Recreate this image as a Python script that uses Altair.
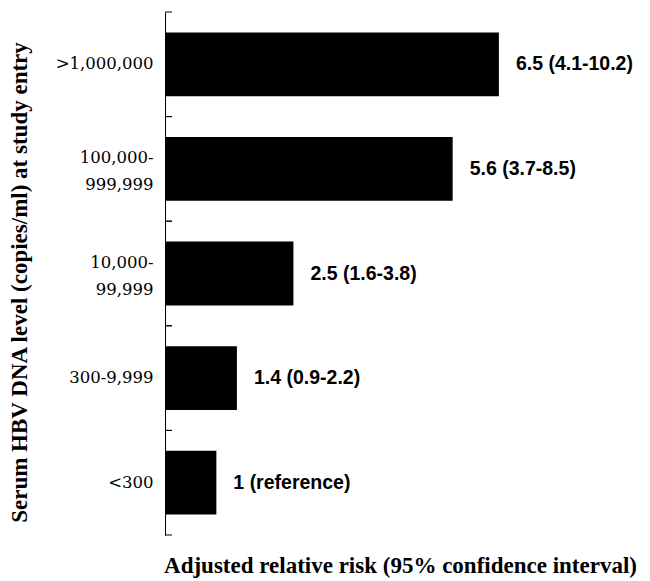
import altair as alt
import pandas as pd

categories = [">1,000,000", "100,000-\n999,999", "10,000-\n99,999", "300-9,999", "<300"]
risk = [6.5, 5.6, 2.5, 1.4, 1.0]
labels = ["6.5 (4.1-10.2)", "5.6 (3.7-8.5)", "2.5 (1.6-3.8)", "1.4 (0.9-2.2)", "1 (reference)"]

df = pd.DataFrame({"cat": categories, "risk": risk, "label": labels})

yscale = alt.Scale(domain=categories, paddingInner=0, paddingOuter=0)

base = alt.Chart(df)

bars = base.mark_bar(color="black", height={"band": 0.61}).encode(
    y=alt.Y(
        "cat:N",
        sort=categories,
        scale=yscale,
        axis=alt.Axis(
            title="Serum HBV DNA level (copies/ml) at study entry",
            titleFont="Liberation Serif",
            titleFontSize=23,
            titleFontWeight="bold",
            titleColor="black",
            titleAngle=270,
            titleAlign="center",
            titleBaseline="middle",
            titleX=-146,
            titleY=270,
            labelFont="DejaVu Serif",
            labelFontSize=16.5,
            labelColor="black",
            labelPadding=12,
            labelLineHeight=27,
            labelExpr="split(datum.label, '\\n')",
            labelOffset={"condition": {"test": "indexof(datum.label, '\\n') >= 0", "value": -11}, "value": 0},
            ticks=False,
            domainColor="black",
            domainWidth=1,
            grid=False,
        ),
    ),
    x=alt.X(
        "risk:Q",
        scale=alt.Scale(domain=[0, 9.15], nice=False),
        axis=alt.Axis(
            title="Adjusted relative risk (95% confidence interval)",
            titleFont="Liberation Serif",
            titleFontSize=23,
            titleFontWeight="bold",
            titleColor="black",
            titleX=235,
            titleY=30,
            titleAlign="center",
            titleBaseline="middle",
            domain=False,
            ticks=False,
            labels=False,
            grid=False,
        ),
    ),
)

text = base.mark_text(
    align="left", baseline="middle", dx=17,
    font="Liberation Sans", fontSize=19.5, fontWeight="bold", color="black",
).encode(
    y=alt.Y("cat:N", sort=categories, scale=yscale),
    x=alt.X("risk:Q"),
    text="label:N",
)

ticks_top = base.mark_rule(color="black", strokeWidth=1).encode(
    y=alt.Y("cat:N", sort=categories, scale=yscale, bandPosition=0),
    x=alt.value(0),
    x2=alt.value(7),
)
ticks_bottom = base.mark_rule(color="black", strokeWidth=1).encode(
    y=alt.Y("cat:N", sort=categories, scale=yscale, bandPosition=1),
    x=alt.value(0),
    x2=alt.value(7),
)

chart = alt.layer(bars, text, ticks_top, ticks_bottom).properties(
    width=470,
    height=523,
    background="white",
    autosize=alt.AutoSizeParams(type="none"),
    padding={"left": 165, "top": 12, "right": 15, "bottom": 46},
).configure_view(stroke=None)

chart.save("out.html", embed_options={"renderer": "svg", "actions": False})
